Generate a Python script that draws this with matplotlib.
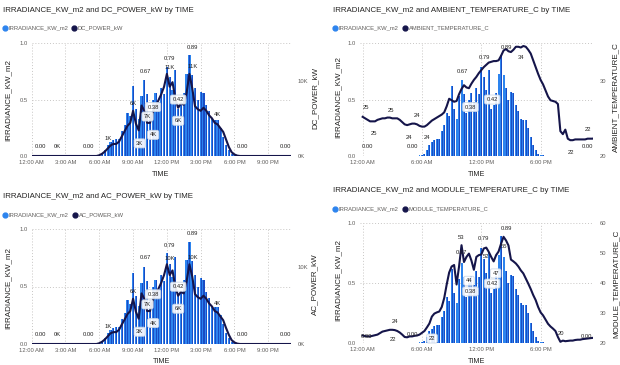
import matplotlib
matplotlib.use("Agg")
import matplotlib.pyplot as plt
from matplotlib import font_manager
from matplotlib.lines import Line2D

# ---------------- data (15-minute readings over one day) ----------------
TIMES = [f"{h:02d}:{m:02d}" for h in range(24) for m in (0, 15, 30, 45)]

IRRADIANCE_KW_M2 = [
    0, 0, 0, 0,            # 00
    0, 0, 0, 0,            # 01
    0, 0, 0, 0,            # 02
    0, 0, 0, 0,            # 03
    0, 0, 0, 0,            # 04
    0, 0, 0, 0.005,        # 05
    0.01, 0.02, 0.05, 0.10,  # 06
    0.12, 0.14, 0.15, 0.15,  # 07
    0.22, 0.27, 0.38, 0.35,  # 08
    0.62, 0.42, 0.33, 0.53,  # 09
    0.67, 0.55, 0.38, 0.50,  # 10
    0.56, 0.48, 0.60, 0.55,  # 11
    0.79, 0.70, 0.58, 0.76,  # 12
    0.42, 0.45, 0.56, 0.73,  # 13
    0.89, 0.72, 0.60, 0.50,  # 14
    0.57, 0.56, 0.45, 0.40,  # 15
    0.33, 0.32, 0.32, 0.25,  # 16
    0.17, 0.10, 0.05, 0.02,  # 17
    0.01, 0.005, 0, 0,       # 18
    0, 0, 0, 0,            # 19
    0, 0, 0, 0,            # 20
    0, 0, 0, 0,            # 21
    0, 0, 0, 0,            # 22
    0, 0, 0, 0,            # 23
]

DC_POWER_KW = [
    0, 0, 0, 0,  0, 0, 0, 0,  0, 0, 0, 0,
    0, 0, 0, 0,  0, 0, 0, 0,  0, 0, 0, 0,
    100, 300, 600, 1000,       # 06
    1400, 1600, 1600, 1900,    # 07
    2600, 3300, 4000, 4400,    # 08
    6000, 4300, 3400, 6700,    # 09
    6000, 4400, 4400, 5800,    # 10
    6600, 7400, 8200, 9200,    # 11
    10900, 9200, 9800, 7600,   # 12
    6400, 7000, 6800, 8400,    # 13
    10900, 9000, 6600, 6200,   # 14
    6000, 6400, 6000, 5400,    # 15
    5000, 4400, 4200, 3700,    # 16
    3200, 2200, 1200, 500,     # 17
    200, 50, 0, 0,             # 18
    0, 0, 0, 0,  0, 0, 0, 0,  0, 0, 0, 0,
    0, 0, 0, 0,  0, 0, 0, 0,
]

AC_POWER_KW = [
    0, 0, 0, 0,  0, 0, 0, 0,  0, 0, 0, 0,
    0, 0, 0, 0,  0, 0, 0, 0,  0, 0, 0, 0,
    100, 300, 600, 1000,       # 06
    1400, 1550, 1550, 1850,    # 07
    2550, 3200, 3900, 4300,    # 08
    5900, 4200, 3300, 6600,    # 09
    5900, 4300, 4300, 5700,    # 10
    6500, 7200, 8000, 9000,    # 11
    10400, 9000, 9600, 7400,   # 12
    6300, 6800, 6600, 8200,    # 13
    10400, 8800, 6500, 6100,   # 14
    5900, 6300, 5900, 5300,    # 15
    4900, 4300, 4100, 3600,    # 16
    3100, 2100, 1200, 500,     # 17
    200, 50, 0, 0,             # 18
    0, 0, 0, 0,  0, 0, 0, 0,  0, 0, 0, 0,
    0, 0, 0, 0,  0, 0, 0, 0,
]

AMBIENT_TEMPERATURE_C = [
    25.2, 25.0, 24.8, 24.6,   # 00
    24.6, 24.6, 24.8, 24.9,   # 01
    25.0, 25.0, 25.1, 25.1,   # 02
    25.0, 25.0, 25.0, 24.8,   # 03
    24.5, 24.2, 24.1, 24.2,   # 04
    24.3, 24.3, 24.2, 24.0,   # 05
    23.9, 23.9, 24.1, 24.4,   # 06
    24.7, 24.9, 25.1, 25.3,   # 07
    25.5, 25.8, 26.6, 27.6,   # 08
    27.4, 27.2, 27.3, 28.2,   # 09
    28.9, 29.4, 29.1, 29.0,   # 10
    29.6, 30.1, 30.5, 31.0,   # 11
    31.4, 31.8, 32.1, 32.4,   # 12
    32.5, 32.6, 32.6, 32.7,   # 13
    33.3, 34.0, 34.2, 33.9,   # 14
    33.8, 34.1, 34.5, 34.5,   # 15
    34.4, 34.6, 34.5, 34.1,   # 16
    33.6, 32.7, 31.8, 30.9,   # 17
    30.1, 29.5, 28.7, 27.9,   # 18
    27.4, 27.3, 27.2, 26.9,   # 19
    23.3, 22.9, 23.5, 22.3,   # 20
    22.1, 22.1, 22.2, 22.2,   # 21
    22.2, 22.2, 22.2, 22.3,   # 22
    22.3, 22.3, 22.4, 22.4,   # 23
]

MODULE_TEMPERATURE_C = [
    22.5, 22.3, 22.2, 22.2,   # 00
    22.4, 22.6, 22.8, 23.3,   # 01
    23.8, 24.0, 24.2, 24.4,   # 02
    24.4, 24.3, 24.0, 23.5,   # 03
    22.8, 22.0, 21.9, 22.2,   # 04
    22.2, 22.4, 22.5, 22.8,   # 05
    23.4, 24.0, 25.2, 26.5,   # 06
    28.8, 29.8, 30.2, 30.5,   # 07
    32.0, 35.0, 39.5, 43.5,   # 08
    45.5, 46.0, 39.5, 45.5,   # 09
    52.6, 47.0, 48.7, 49.8,   # 10
    47.5, 44.4, 48.7, 49.3,   # 11
    49.5, 51.5, 51.8, 50.4,   # 12
    48.7, 47.2, 49.3, 50.5,   # 13
    53.1, 55.4, 54.2, 52.5,   # 14
    47.8, 47.2, 46.5, 45.5,   # 15
    44.2, 43.2, 41.5, 39.8,   # 16
    38.0, 36.0, 34.3, 32.0,   # 17
    30.2, 29.2, 27.8, 26.4,   # 18
    25.5, 24.8, 24.0, 22.0,   # 19
    20.4, 20.8, 20.6, 20.7,   # 20
    20.8, 20.8, 21.0, 21.1,   # 21
    21.1, 21.3, 21.4, 21.5,   # 22
    21.6, 21.7, 21.8, 21.8,   # 23
]

TICKS_3H = [0, 3, 6, 9, 12, 15, 18, 21]
TICKLABELS_3H = ["12:00 AM", "3:00 AM", "6:00 AM", "9:00 AM",
                 "12:00 PM", "3:00 PM", "6:00 PM", "9:00 PM"]
TICKS_6H = [0, 6, 12, 18]
TICKLABELS_6H = ["12:00 AM", "6:00 AM", "12:00 PM", "6:00 PM"]


def to_hours(t):
    h, m = t.split(":")
    return int(h) + int(m) / 60.0


HOURS = [to_hours(t) for t in TIMES]

# ---------------- style ----------------
names = {f.name for f in font_manager.fontManager.ttflist}
if "Liberation Sans Narrow" in names:
    FONT, K = "Liberation Sans Narrow", 1.0
else:
    FONT, K = "Liberation Sans", 0.84
plt.rcParams["font.family"] = [FONT, "DejaVu Sans"]

TITLE_C = "#252423"
GRAY = "#605E5C"
BAR_C = "#2d84ee"
BAR_DARK = "#1a4cc4"
LINE_C = "#15154a"
GRID_C = "#c8c6c4"

W, H = 620, 365
fig = plt.figure(figsize=(W / 100, H / 100), dpi=100)
fig.patch.set_facecolor("white")


def fx(x):
    return x / W


def fy(y):
    return 1 - y / H


def rect(x0, y0, x1, y1):
    return [x0 / W, 1 - y1 / H, (x1 - x0) / W, (y1 - y0) / H]


SERIES = {
    "irr": IRRADIANCE_KW_M2, "dc": DC_POWER_KW, "ac": AC_POWER_KW,
    "amb": AMBIENT_TEMPERATURE_C, "mod": MODULE_TEMPERATURE_C,
}


def fmt(key, v):
    if key == "irr":
        return f"{v:.2f}"
    if key in ("dc", "ac"):
        return f"{v / 1000:.0f}K"
    return f"{v:.0f}"


def panel(rect_px, xlim, ticks, ticklabels, line_key, y2lim, y2ticks, y2labels, labels):
    ax = fig.add_axes(rect(*rect_px))
    ax.set_xlim(*xlim)
    ax.set_ylim(0, 1.0)
    ax.bar(HOURS, IRRADIANCE_KW_M2, width=0.2, color=BAR_C, zorder=2, linewidth=0)
    ax.bar(HOURS, IRRADIANCE_KW_M2, width=0.09, align="edge", color=BAR_DARK,
           zorder=2.1, linewidth=0)
    ax.set_yticks([0, 0.5, 1.0])
    ax.set_yticklabels(["0.0", "0.5", "1.0"])
    ax.set_xticks(ticks)
    ax.set_xticklabels(ticklabels)
    ax.tick_params(axis="both", length=0, labelsize=5.0 * K, colors=GRAY)
    ax.tick_params(axis="y", pad=3)
    ax.tick_params(axis="x", pad=3)
    ax.grid(True, color=GRID_C, linestyle=(0, (1, 2)), linewidth=0.7, zorder=0)
    ax.set_axisbelow(True)
    for s in ax.spines.values():
        s.set_visible(False)

    ax2 = ax.twinx()
    ax2.plot(HOURS, SERIES[line_key], color=LINE_C, lw=1.5, zorder=3,
             solid_joinstyle="round")
    ax2.set_ylim(*y2lim)
    ax2.set_xlim(*xlim)
    ax2.set_yticks(y2ticks)
    ax2.set_yticklabels(y2labels)
    ax2.tick_params(axis="y", length=0, labelsize=5.0 * K, colors=GRAY, pad=5)
    for s in ax2.spines.values():
        s.set_visible(False)

    for key, t, dx, dy, boxed in labels:
        i = TIMES.index(t)
        v = SERIES[key][i]
        src = ax if key == "irr" else ax2
        kw = {}
        if boxed:
            kw["bbox"] = dict(boxstyle="round,pad=0.35,rounding_size=0.3",
                              fc="white", ec="#c9d6e6", lw=0.6, alpha=0.9)
        ax2.annotate(fmt(key, v), xy=(HOURS[i], v), xycoords=src.transData,
                     xytext=(dx * 0.72, dy * 0.72), textcoords="offset points",
                     ha="center", va="center", fontsize=5.0 * K, color=TITLE_C,
                     zorder=5, annotation_clip=False, **kw)
    return ax, ax2


def header(x, y_title, y_leg, title, leg2, leg2_x):
    fig.text(fx(x), fy(y_title), title, fontsize=6.8 * K, color=TITLE_C,
             ha="left", va="center")
    for cx, col, txt in ((x + 2, BAR_C, "IRRADIANCE_KW_m2"), (leg2_x, LINE_C, leg2)):
        fig.add_artist(Line2D([fx(cx)], [fy(y_leg)], marker="o", markersize=3.5,
                              color=col, transform=fig.transFigure, linestyle="none"))
        fig.text(fx(cx + 3.5), fy(y_leg), txt, fontsize=5.0 * K, color=GRAY,
                 ha="left", va="center")


def vlabel(x, y, s):
    fig.text(fx(x), fy(y), s, rotation=90, fontsize=6.9 * K, color=TITLE_C,
             ha="center", va="center")


# ---------------- labels ----------------
TL_LABELS = [
    ("irr", "00:45", 0, 9, False), ("dc", "02:15", 0, 9, False),
    ("irr", "05:00", 0, 9, False), ("dc", "06:45", 0, 10, False),
    ("dc", "09:00", 0, 7, False), ("irr", "10:00", 1, 9, False),
    ("irr", "12:00", 3, 8, False), ("dc", "12:00", 3, 6, False),
    ("irr", "14:00", 3, 8, False), ("dc", "14:00", 3, 7, False),
    ("irr", "10:30", 3, 6, True), ("dc", "09:45", 6, -11, True),
    ("dc", "09:30", 1, -13, True), ("dc", "10:15", 6, -12, True),
    ("irr", "13:00", 0, 9, True), ("dc", "13:00", 0, -13, True),
    ("dc", "16:15", 3, 8, False), ("irr", "18:45", 0, 9, False),
    ("irr", "22:30", 0, 9, False),
]
BL_LABELS = [(("ac" if k == "dc" else k), t, dx, dy, b) for k, t, dx, dy, b in TL_LABELS]

TR_LABELS = [
    ("amb", "00:15", 1, 11, False), ("amb", "01:00", 1, -12, False),
    ("amb", "03:00", -1, 8, False), ("amb", "04:30", 2, -12, False),
    ("amb", "05:30", 0, 9, False), ("amb", "06:30", 0, -12, False),
    ("irr", "00:30", 0, 9, False), ("irr", "05:00", 0, 9, False),
    ("irr", "10:00", 1, 9, False), ("irr", "12:00", 3, 9, False),
    ("irr", "14:00", 5, 8, False), ("amb", "16:00", 0, -10, False),
    ("irr", "10:30", 4, 6, True), ("irr", "13:00", 1, 9, True),
    ("amb", "21:00", 1, -12, False), ("amb", "22:45", 0, 9, False),
    ("irr", "22:45", 0, 9, False),
]

BR_LABELS = [
    ("irr", "00:30", -1, 7, False), ("mod", "03:00", 3, 8, False),
    ("mod", "04:30", -14, -2, False), ("irr", "05:00", 0, 8, False),
    ("mod", "05:30", 15, -3, True), ("mod", "10:00", 0, 8, False),
    ("irr", "10:00", 0, 10, False), ("irr", "12:00", 2, 10, False),
    ("irr", "14:00", 5, 8, False), ("mod", "14:15", 1, -10, False),
    ("mod", "12:30", 0, -9, False), ("mod", "11:15", -5, -11, True),
    ("irr", "10:30", 4, 6, True), ("mod", "13:15", 2, -12, True),
    ("irr", "13:00", 1, 9, True), ("mod", "20:00", 1, 8, False),
    ("irr", "22:30", 1, 7, False),
]

# ---------------- panels ----------------
panel((31.7, 43, 290.8, 156), (0, 23), TICKS_3H, TICKLABELS_3H, "dc",
      (0, 15000), [0, 10000], ["0K", "10K"], TL_LABELS)
panel((359.7, 43, 593, 156), (-0.3, 23.3), TICKS_6H, TICKLABELS_6H, "amb",
      (20, 35), [20, 30], ["20", "30"], TR_LABELS)
panel((31.7, 229, 290.8, 344), (0, 23), TICKS_3H, TICKLABELS_3H, "ac",
      (0, 15000), [0, 10000], ["0K", "10K"], BL_LABELS)
panel((359.7, 223, 593, 343), (-0.3, 23.3), TICKS_6H, TICKLABELS_6H, "mod",
      (20, 60), [20, 30, 40, 50, 60], ["20", "30", "40", "50", "60"], BR_LABELS)

header(3, 11, 28, "IRRADIANCE_KW_m2 and DC_POWER_kW by TIME", "DC_POWER_kW", 74)
header(333, 11, 28, "IRRADIANCE_KW_m2 and AMBIENT_TEMPERATURE_C by TIME",
       "AMBIENT_TEMPERATURE_C", 405)
header(3, 197, 215, "IRRADIANCE_KW_m2 and AC_POWER_kW by TIME", "AC_POWER_kW", 75)
header(333, 191, 209, "IRRADIANCE_KW_m2 and MODULE_TEMPERATURE_C by TIME",
       "MODULE_TEMPERATURE_C", 405)

# axis titles
for x, y in ((161, 175), (476.7, 175), (161.7, 361.5), (476.7, 361.5)):
    fig.text(fx(x), fy(y), "TIME", fontsize=6.2 * K, color=TITLE_C,
             ha="center", va="center")
vlabel(8.3, 100, "IRRADIANCE_KW_m2")
vlabel(8.3, 288, "IRRADIANCE_KW_m2")
vlabel(338.3, 97, "IRRADIANCE_KW_m2")
vlabel(338.3, 280, "IRRADIANCE_KW_m2")
vlabel(315, 98, "DC_POWER_kW")
vlabel(315, 284, "AC_POWER_kW")
vlabel(616, 97, "AMBIENT_TEMPERATURE_C")
vlabel(616, 284, "MODULE_TEMPERATURE_C")

fig.savefig("out.png", dpi=100, facecolor="white")
